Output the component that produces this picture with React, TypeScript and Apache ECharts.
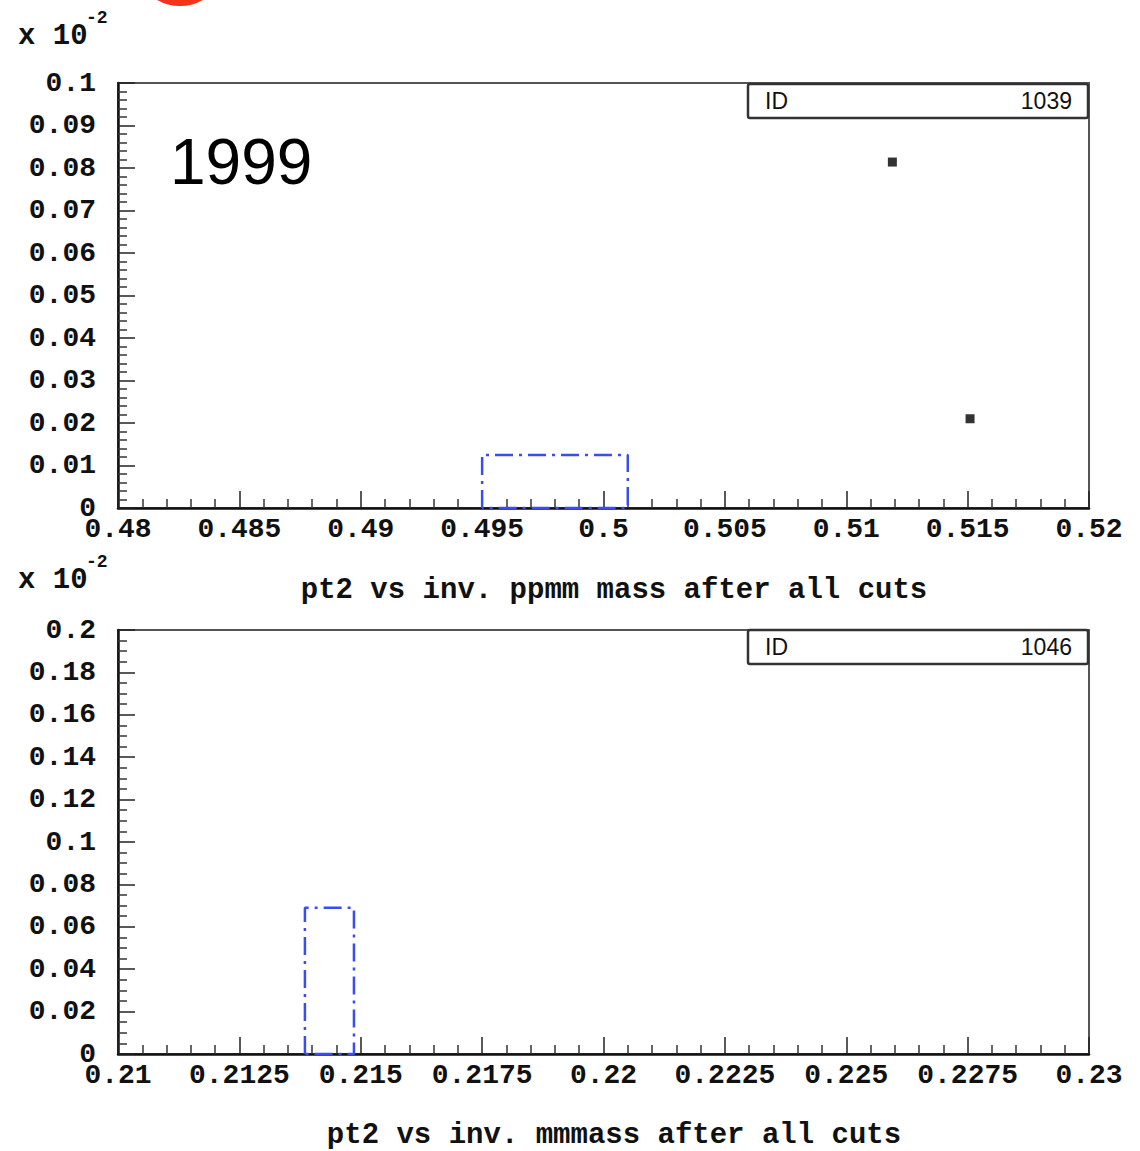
import React, { useEffect, useRef } from "react";
import * as echarts from "echarts";

// ---- data ----
const topXRange = [0.48, 0.52];
const topYRange = [0, 0.1];
const bottomXRange = [0.21, 0.23];
const bottomYRange = [0, 0.2];

const topBinLow = [0.495];
const topBinHigh = [0.501];
const topBinValue = [0.0125];

const topPointsX = [0.5119, 0.5151];
const topPointsY = [0.0814, 0.021];

const bottomBinLow = [0.21385];
const bottomBinHigh = [0.21486];
const bottomBinValue = [0.069];

const topTitle = "pt2 vs inv. ppmm mass after all cuts";
const bottomTitle = "pt2 vs inv. mmmass after all cuts";
const topId = "1039";
const bottomId = "1046";
const yearLabel = "1999";
const scaleLabel = "x 10";
const scaleExp = "-2";

const MONO = "Liberation Mono";
const SANS = "Liberation Sans";

function binOutline(lo: number[], hi: number[], v: number[]) {
  const pts: (number | null)[][] = [];
  for (let i = 0; i < lo.length; i++) {
    pts.push([lo[i], 0], [lo[i], v[i]], [hi[i], v[i]], [hi[i], 0], [lo[i], 0]);
    if (i < lo.length - 1) pts.push([null, null]);
  }
  return pts;
}

const fmt = (v: number) => String(parseFloat(v.toFixed(6)));

function xAxisCfg(idx: number, range: number[], interval: number) {
  return {
    type: "value",
    gridIndex: idx,
    min: range[0],
    max: range[1],
    interval,
    axisLine: { show: true, onZero: false, lineStyle: { color: "#111", width: 2.5 } },
    axisTick: { show: true, inside: true, length: 17, lineStyle: { color: "#222", width: 1.5 } },
    minorTick: { show: true, splitNumber: 5, length: 9, lineStyle: { color: "#333", width: 1.5 } },
    splitLine: { show: false },
    minorSplitLine: { show: false },
    axisLabel: {
      show: true,
      showMinLabel: true,
      showMaxLabel: true,
      margin: 7,
      fontFamily: MONO,
      fontWeight: "bold",
      fontSize: 28,
      color: "#111",
      formatter: fmt,
    },
  };
}

function yAxisCfg(idx: number, range: number[], interval: number, minorSplit: number) {
  return {
    type: "value",
    gridIndex: idx,
    min: range[0],
    max: range[1],
    interval,
    axisLine: { show: true, lineStyle: { color: "#111", width: 2.5 } },
    axisTick: { show: true, inside: true, length: 17, lineStyle: { color: "#222", width: 1.5 } },
    minorTick: { show: true, splitNumber: minorSplit, length: 9, lineStyle: { color: "#333", width: 1.5 } },
    splitLine: { show: false },
    minorSplitLine: { show: false },
    axisLabel: {
      show: true,
      showMinLabel: true,
      showMaxLabel: true,
      margin: 22,
      fontFamily: MONO,
      fontWeight: "bold",
      fontSize: 28,
      color: "#111",
      formatter: fmt,
    },
  };
}

function idBox(y: number, id: string) {
  return {
    type: "group",
    children: [
      {
        type: "rect",
        shape: { x: 748, y, width: 340, height: 34, r: 2 },
        style: { fill: "#fff", stroke: "#333", lineWidth: 2.5 },
        z: 10,
      },
      {
        type: "text",
        x: 765,
        y: y + 17,
        style: { text: "ID", font: `23px ${SANS}`, fill: "#111", verticalAlign: "middle" },
        z: 11,
      },
      {
        type: "text",
        x: 1072,
        y: y + 17,
        style: { text: id, font: `23px ${SANS}`, fill: "#111", align: "right", verticalAlign: "middle" },
        z: 11,
      },
    ],
  };
}

function scaleNote(y: number) {
  return [
    {
      type: "text",
      x: 18,
      y,
      style: { text: scaleLabel, font: `bold 29px ${MONO}`, fill: "#111", verticalAlign: "middle" },
    },
    {
      type: "text",
      x: 86,
      y: y - 18,
      style: { text: scaleExp, font: `bold 18px ${MONO}`, fill: "#111", verticalAlign: "middle" },
    },
  ];
}

export default function App() {
  const ref = useRef<HTMLDivElement>(null);
  useEffect(() => {
    if (!ref.current) return;
    const chart = echarts.init(ref.current, undefined, { renderer: "svg" });
    const option: any = {
      animation: false,
      backgroundColor: "#fff",
      grid: [
        { left: 118, top: 83, width: 971, height: 425, show: true, borderColor: "#555", borderWidth: 2, backgroundColor: "transparent" },
        { left: 118, top: 630, width: 971, height: 424, show: true, borderColor: "#555", borderWidth: 2, backgroundColor: "transparent" },
      ],
      xAxis: [xAxisCfg(0, topXRange, 0.005), xAxisCfg(1, bottomXRange, 0.0025)],
      yAxis: [yAxisCfg(0, topYRange, 0.01, 5), yAxisCfg(1, bottomYRange, 0.02, 4)],
      series: [
        {
          type: "line",
          xAxisIndex: 0,
          yAxisIndex: 0,
          data: binOutline(topBinLow, topBinHigh, topBinValue),
          symbol: "none",
          connectNulls: false,
          lineStyle: { color: "#3a4ef0", width: 2.5, type: [18, 6, 3, 6] },
          z: 3,
        },
        {
          type: "scatter",
          xAxisIndex: 0,
          yAxisIndex: 0,
          data: topPointsX.map((x, i) => [x, topPointsY[i]]),
          symbol: "rect",
          symbolSize: 9,
          itemStyle: { color: "#000" },
          z: 4,
        },
        {
          type: "line",
          xAxisIndex: 1,
          yAxisIndex: 1,
          data: binOutline(bottomBinLow, bottomBinHigh, bottomBinValue),
          symbol: "none",
          connectNulls: false,
          lineStyle: { color: "#3a4ef0", width: 2.5, type: [18, 6, 3, 6] },
          z: 3,
        },
      ],
      graphic: [
        {
          type: "circle",
          shape: { cx: 180, cy: -41, r: 47 },
          style: { fill: "#f5331a" },
        },
        ...scaleNote(36),
        ...scaleNote(580),
        {
          type: "text",
          x: 170,
          y: 162,
          style: { text: yearLabel, font: `64px ${SANS}`, fill: "#000", verticalAlign: "middle" },
        },
        {
          type: "text",
          x: 614,
          y: 590,
          style: { text: topTitle, font: `bold 29px ${MONO}`, fill: "#111", align: "center", verticalAlign: "middle" },
        },
        {
          type: "text",
          x: 614,
          y: 1135,
          style: { text: bottomTitle, font: `bold 29px ${MONO}`, lineHeight: 26, fill: "#111", align: "center", verticalAlign: "middle" },
        },
        idBox(84, topId),
        idBox(630, bottomId),
      ],
    };
    chart.setOption(option);
    return () => chart.dispose();
  }, []);
  return (
    <div
      ref={ref}
      style={{ position: "fixed", left: 0, top: 0, width: 1140, height: 1151, background: "#fff" }}
    />
  );
}
